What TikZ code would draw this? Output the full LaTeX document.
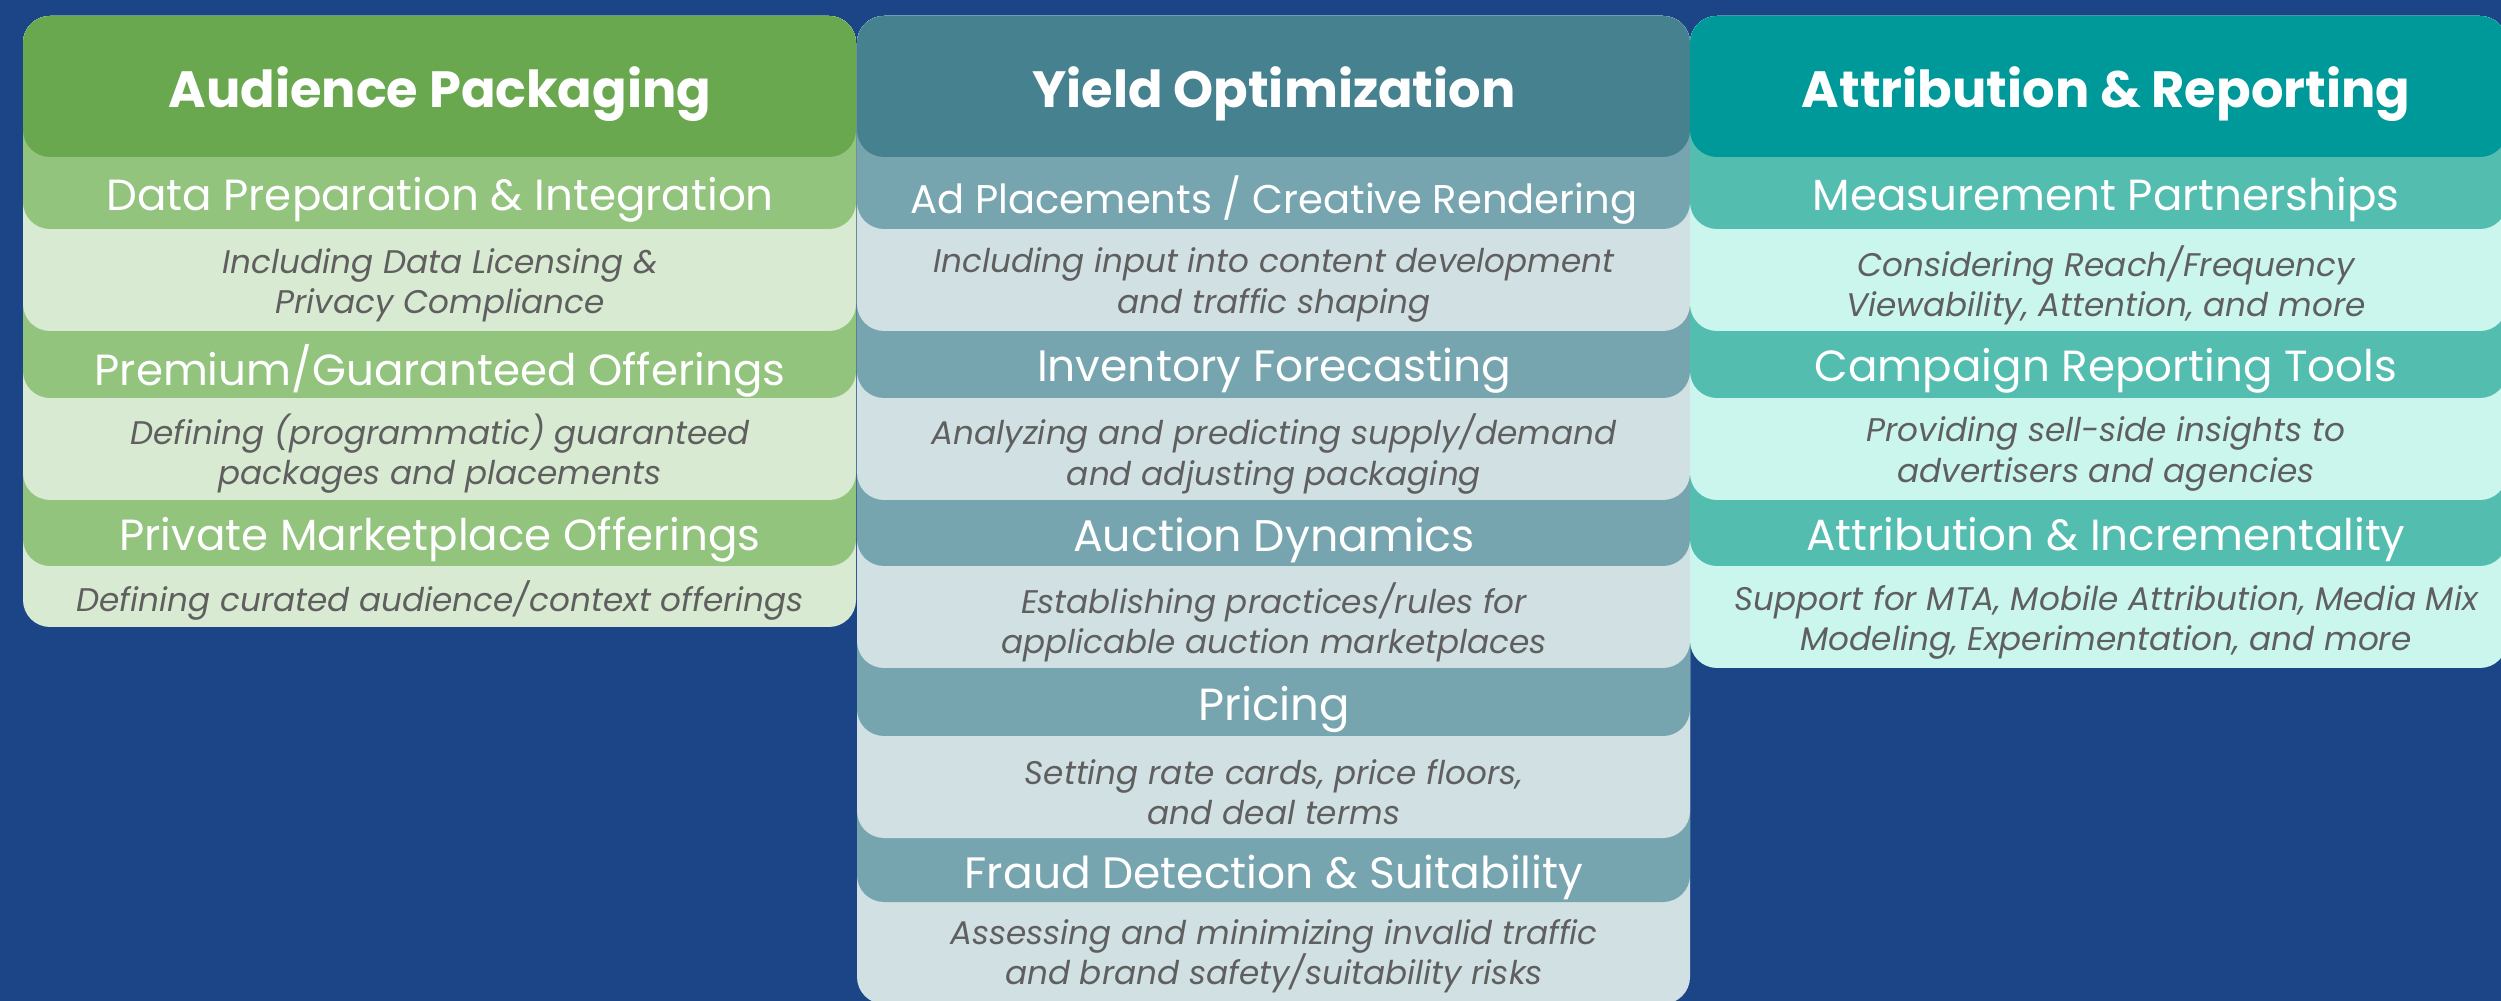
\documentclass[tikz,border=0pt]{standalone}
\usepackage{fontspec}
\setmainfont{Poppins}
\definecolor{BgClr}{HTML}{1C4587}
\definecolor{ApDark}{HTML}{6AA84F}
\definecolor{ApMid}{HTML}{93C47D}
\definecolor{ApLight}{HTML}{D9EAD3}
\definecolor{YoDark}{HTML}{45818E}
\definecolor{YoMid}{HTML}{76A5AF}
\definecolor{YoLight}{HTML}{D0E0E3}
\definecolor{ArDark}{HTML}{009999}
\definecolor{ArMid}{HTML}{53BDB0}
\definecolor{ArLight}{HTML}{CAF6EE}
\definecolor{DescTxt}{HTML}{5F5F5F}

\begin{document}
\begin{tikzpicture}[x=0.01cm,y=-0.01cm]
\tikzset{
  piece/.style={rounded corners=0.27cm},
  hdr/.style={text=white,font=\bfseries\fontsize{14.5}{17}\selectfont},
  band/.style={text=white,font=\fontsize{#1}{15}\selectfont},
  band/.default=12.4,
  desc/.style={text=DescTxt,align=center,font=\itshape\fontsize{9.3}{11.4}\selectfont}
}
\fill[BgClr] (0,0) rectangle (2501,1001);
\useasboundingbox (0,0) rectangle (2501,1001);

% Audience Packaging
\fill[piece,ApLight] (23,16) rectangle (856,627);
\fill[piece,ApMid]   (23,16) rectangle (856,566);
\fill[piece,ApLight] (23,16) rectangle (856,500);
\fill[piece,ApMid]   (23,16) rectangle (856,398);
\fill[piece,ApLight] (23,16) rectangle (856,331);
\fill[piece,ApMid]   (23,16) rectangle (856,229);
\fill[piece,ApDark]  (23,16) rectangle (856,157);

\node[hdr]  (ap)   at (440,94)  {Audience Packaging};
\node[band] (ap1)  at (440,200) {Data Preparation \& Integration};
\node[desc] (ap1d) at (440,285) {Including Data Licensing \&\\Privacy Compliance};
\node[band] (ap2)  at (440,371) {Premium/Guaranteed Offerings};
\node[desc] (ap2d) at (440,454) {Defining (programmatic) guaranteed\\packages and placements};
\node[band] (ap3)  at (440,540) {Private Marketplace Offerings};
\node[desc] (ap3d) at (440,601) {Defining curated audience/context offerings};

% Yield Optimization
\fill[piece,YoLight] (857,16) rectangle (1690,1004);
\fill[piece,YoMid]   (857,16) rectangle (1690,902);
\fill[piece,YoLight] (857,16) rectangle (1690,838);
\fill[piece,YoMid]   (857,16) rectangle (1690,736);
\fill[piece,YoLight] (857,16) rectangle (1690,668);
\fill[piece,YoMid]   (857,16) rectangle (1690,566);
\fill[piece,YoLight] (857,16) rectangle (1690,500);
\fill[piece,YoMid]   (857,16) rectangle (1690,398);
\fill[piece,YoLight] (857,16) rectangle (1690,331);
\fill[piece,YoMid]   (857,16) rectangle (1690,229);
\fill[piece,YoDark]  (857,16) rectangle (1690,157);

\node[hdr]        (yo)   at (1274,94)  {Yield Optimization};
\node[band=11.4]  (yo1)  at (1274,200) {Ad Placements / Creative Rendering};
\node[desc]       (yo1d) at (1274,285) {Including input into content development\\and traffic shaping};
\node[band=12.5]  (yo2)  at (1274,371) {Inventory Forecasting};
\node[desc]       (yo2d) at (1274,454) {Analyzing and predicting supply/demand\\and adjusting packaging};
\node[band=12.6]  (yo3)  at (1274,540) {Auction Dynamics};
\node[desc]       (yo3d) at (1274,622) {Establishing practices/rules for\\applicable auction marketplaces};
\node[band=12.8]  (yo4)  at (1274,709) {Pricing};
\node[desc]       (yo4d) at (1274,792) {Setting rate cards, price floors,\\and deal terms};
\node[band=12.5]  (yo5)  at (1274,877) {Fraud Detection \& Suitability};
\node[desc]       (yo5d) at (1274,956) {Assessing and minimizing invalid traffic\\and brand safety/suitability risks};

% Attribution & Reporting
\fill[piece,ArLight] (1690,16) rectangle (2507,668);
\fill[piece,ArMid]   (1690,16) rectangle (2507,566);
\fill[piece,ArLight] (1690,16) rectangle (2507,500);
\fill[piece,ArMid]   (1690,16) rectangle (2507,398);
\fill[piece,ArLight] (1690,16) rectangle (2507,331);
\fill[piece,ArMid]   (1690,16) rectangle (2507,229);
\fill[piece,ArDark]  (1690,16) rectangle (2507,157);

\node[hdr]  (ar)   at (2106,94)  {Attribution \& Reporting};
\node[band] (ar1)  at (2106,200) {Measurement Partnerships};
\node[desc] (ar1d) at (2106,285) {Considering Reach/Frequency\\Viewability, Attention, and more};
\node[band] (ar2)  at (2106,371) {Campaign Reporting Tools};
\node[desc] (ar2d) at (2106,454) {Providing sell-side insights to\\advertisers and agencies};
\node[band] (ar3)  at (2106,540) {Attribution \& Incrementality};
\node[desc] (ar3d) at (2106,622) {Support for MTA, Mobile Attribution, Media Mix\\Modeling, Experimentation, and more};
\end{tikzpicture}
\end{document}
